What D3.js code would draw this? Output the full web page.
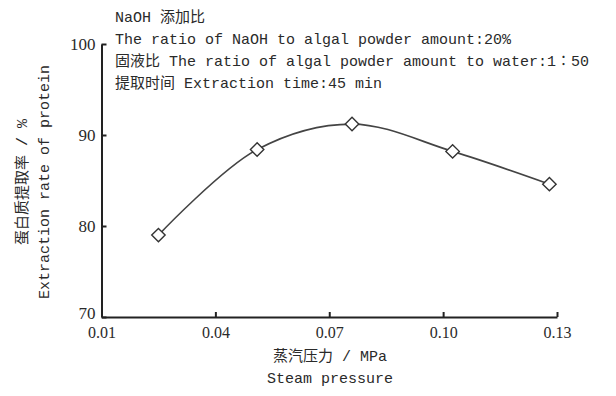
<!DOCTYPE html>
<html>
<head>
<meta charset="utf-8">
<script src="https://cdn.jsdelivr.net/npm/d3@7"></script>
<style>
body { margin: 0; background: #fff; }
text { fill: #2a2a2a; }
</style>
</head>
<body>
<div id="chart"></div>
<script>
// steam pressure (MPa) vs protein extraction rate (%)
var pressure = [0.025, 0.051, 0.076, 0.1025, 0.128];
var rate = [79.0, 88.4, 91.2, 88.2, 84.6];
var xTicks = [0.01, 0.04, 0.07, 0.10, 0.13];
var yTicks = [70, 80, 90, 100];
var notes = [
    "NaOH 添加比",
    "The ratio of NaOH to algal powder amount:20%",
    "固液比 The ratio of algal powder amount to water:1∶50",
    "提取时间 Extraction time:45 min"
];
var yTitle = ["蛋白质提取率 / %", "Extraction rate of protein"];
var xTitle = ["蒸汽压力 / MPa", "Steam pressure"];

var width = 616, height = 396;
var svg = d3.select("#chart").append("svg")
    .attr("width", width)
    .attr("height", height);

var x = d3.scaleLinear()
    .domain([0.01, 0.13])
    .range([101.5, 557]);
var y = d3.scaleLinear()
    .domain([70, 100])
    .range([317, 44]);

var serif = "'Liberation Serif', 'Noto Sans CJK SC', serif";
var mono = "'Liberation Mono', 'Noto Sans CJK SC', monospace";

// x axis, ticks pointing inward
var xAxis = svg.append("g")
    .attr("transform", "translate(0," + y(70) + ")")
    .call(d3.axisTop(x).tickValues(xTicks).tickSize(5).tickSizeOuter(0).tickFormat(d3.format(".2f")));
xAxis.selectAll("text")
    .attr("y", 10)
    .attr("dy", "0.71em")
    .style("font-family", serif)
    .style("font-size", "16px");

// y axis, ticks pointing inward
var yAxis = svg.append("g")
    .attr("transform", "translate(" + x(0.01) + ",0)")
    .call(d3.axisRight(y).tickValues(yTicks).tickSize(5).tickSizeOuter(0));
yAxis.selectAll("text")
    .attr("x", -6)
    .attr("dy", function(d) { return d === 70 ? "0.1em" : "0.32em"; })
    .attr("text-anchor", "end")
    .style("font-family", serif)
    .style("font-size", "17px");

svg.selectAll(".domain, .tick line")
    .attr("stroke", "#222")
    .attr("stroke-width", 2);

// curve
var line = d3.line()
    .x(function(d, i) { return x(pressure[i]); })
    .y(function(d) { return y(d); })
    .curve(d3.curveCatmullRom.alpha(0.5));

svg.append("path")
    .datum(rate)
    .attr("d", line)
    .attr("fill", "none")
    .attr("stroke", "#444")
    .attr("stroke-width", 1.6);

// diamond markers
svg.selectAll(".pt")
    .data(rate)
    .enter().append("path")
    .attr("class", "pt")
    .attr("transform", function(d, i) { return "translate(" + x(pressure[i]) + "," + y(d) + ")"; })
    .attr("d", d3.symbol().type(d3.symbolDiamond2).size(115))
    .attr("fill", "#fff")
    .attr("stroke", "#333")
    .attr("stroke-width", 1.4);

// condition notes
svg.selectAll(".note")
    .data(notes)
    .enter().append("text")
    .attr("class", "note")
    .attr("x", 115)
    .attr("y", function(d, i) { return 22 + i * 22; })
    .style("font-family", mono)
    .style("font-size", "15px")
    .text(function(d) { return d; });

// y title
svg.selectAll(".ytitle")
    .data(yTitle)
    .enter().append("text")
    .attr("class", "ytitle")
    .attr("transform", function(d, i) { return "translate(" + (27 + i * 22) + ",182) rotate(-90)"; })
    .attr("text-anchor", "middle")
    .style("font-family", mono)
    .style("font-size", "15px")
    .text(function(d) { return d; });

// x title
svg.selectAll(".xtitle")
    .data(xTitle)
    .enter().append("text")
    .attr("class", "xtitle")
    .attr("x", 330)
    .attr("y", function(d, i) { return 361 + i * 22; })
    .attr("text-anchor", "middle")
    .style("font-family", mono)
    .style("font-size", "15px")
    .text(function(d) { return d; });
</script>
</body>
</html>
